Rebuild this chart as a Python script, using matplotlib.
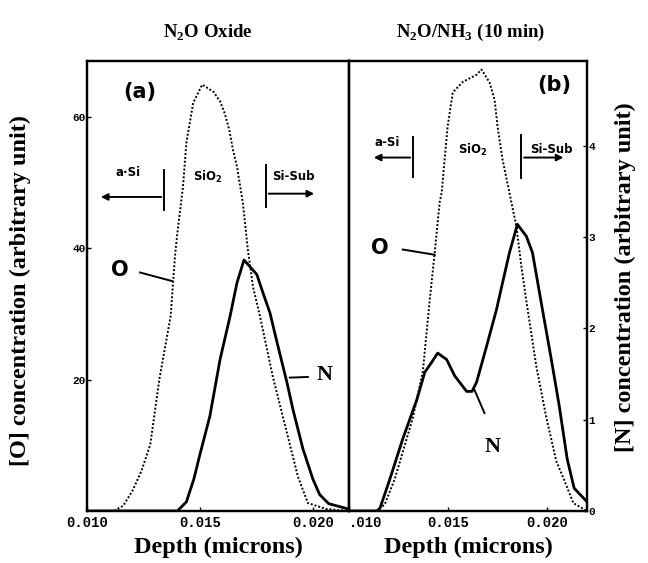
import matplotlib
matplotlib.use("Agg")
import matplotlib.pyplot as plt

# panel (a) N2O oxide
depth_o_a = [0.0100, 0.0112, 0.0116, 0.0120, 0.0124, 0.0128, 0.0132, 0.0137, 0.0139, 0.0140,
             0.01425, 0.0144, 0.0147, 0.0151, 0.0156, 0.0159, 0.0161, 0.0163, 0.01646, 0.01664,
             0.0169, 0.01712, 0.01735, 0.01766, 0.01823, 0.01885, 0.01934, 0.01978, 0.0206, 0.0216]
o_a = [0, 0, 0.8, 3.0, 6.0, 10.1, 20.0, 29.6, 39.0, 42.3,
       49.4, 56.1, 62.1, 64.9, 63.8, 62.3, 60.5, 58.0, 55.0, 52.4,
       46.9, 39.8, 34.1, 29.6, 20.4, 11.9, 5.2, 1.2, 0.3, 0]

depth_n_a = [0.0100, 0.0140, 0.0144, 0.01473, 0.0150, 0.01544, 0.01589, 0.01633, 0.01664,
             0.01695, 0.0172, 0.01752, 0.01779, 0.0181, 0.01841, 0.01885, 0.01912, 0.01956, 0.0200,
             0.0203, 0.0207, 0.0216]
n_a = [0, 0, 0.1, 0.35, 0.62, 1.04, 1.66, 2.13, 2.50,
       2.75, 2.68, 2.59, 2.39, 2.17, 1.85, 1.41, 1.11, 0.68, 0.35,
       0.18, 0.08, 0.02]

# panel (b) N2O/NH3 10 min
depth_o_b = [0.0100, 0.0114, 0.0118, 0.01231, 0.01322, 0.01372, 0.01407, 0.01432, 0.01457, 0.01467,
             0.01497, 0.01523, 0.01573, 0.01643, 0.01668, 0.01709, 0.01734, 0.01749, 0.01774, 0.01809,
             0.01844, 0.01869, 0.01894, 0.01945, 0.01995, 0.02045, 0.02085, 0.02131, 0.0220]
o_b = [0, 0, 1.0, 4.9, 14.2, 21.2, 32.1, 39.3, 47.0, 48.4,
       58.5, 63.7, 65.3, 66.4, 67.2, 65.2, 62.6, 58.5, 53.5, 48.4,
       43.3, 37.2, 32.0, 21.9, 14.2, 7.6, 4.7, 1.2, 0]

depth_n_b = [0.0100, 0.0114, 0.01156, 0.01206, 0.01271, 0.01342, 0.01382, 0.01417, 0.01447, 0.01492,
             0.01533, 0.01593, 0.0162, 0.01643, 0.01693, 0.01744, 0.01774, 0.01809, 0.01849, 0.01894,
             0.01925, 0.01975, 0.0202, 0.0206, 0.0210, 0.02135, 0.0220]
n_b = [0, 0, 0.03, 0.35, 0.79, 1.22, 1.52, 1.63, 1.73, 1.66,
       1.48, 1.31, 1.31, 1.41, 1.80, 2.21, 2.50, 2.83, 3.14, 3.01,
       2.83, 2.21, 1.66, 1.15, 0.57, 0.25, 0.10]

x_ticks = [0.010, 0.015, 0.020]
o_ticks = [20, 40, 60]
n_ticks = [0, 1, 2, 3, 4]

serif = "Liberation Serif"
mono = "Liberation Mono"
dotted = (0, (1, 1))

fig = plt.figure(figsize=(6.48, 5.63), dpi=100)
ax_a = fig.add_axes([0.1343, 0.0924, 0.4043, 0.7993])
ax_b = fig.add_axes([0.5386, 0.0924, 0.3673, 0.7993])
axn_a = ax_a.twinx()
axn_b = ax_b.twinx()

ax_a.plot(depth_o_a, o_a, color="black", lw=1.4, ls=dotted)
axn_a.plot(depth_n_a, n_a, color="black", lw=2.0)
ax_b.plot(depth_o_b, o_b, color="black", lw=1.4, ls=dotted)
axn_b.plot(depth_n_b, n_b, color="black", lw=2.0)

ax_a.set_xlim(0.010, 0.0216)
ax_b.set_xlim(0.010, 0.0220)
for ax in (ax_a, ax_b):
    ax.set_ylim(0, 68.5)
for ax in (axn_a, axn_b):
    ax.set_ylim(0, 4.93)

for ax in (ax_a, ax_b, axn_a, axn_b):
    for s in ax.spines.values():
        s.set_linewidth(1.6)
    ax.tick_params(direction="in", length=3, width=1)

ax_a.set_xticks(x_ticks)
ax_a.set_xticklabels(["0.010", "0.015", "0.020"], fontfamily=mono, fontweight="bold", fontsize=10)
ax_b.set_xticks(x_ticks)
ax_b.set_xticklabels([".010", "0.015", "0.020"], fontfamily=mono, fontweight="bold", fontsize=10)
ax_b.get_xticklabels()[0].set_ha("left")
ax_a.set_yticks(o_ticks)
ax_a.set_yticklabels([str(t) for t in o_ticks], fontfamily=mono, fontweight="bold", fontsize=8)
ax_a.tick_params(axis="y", pad=1)
axn_a.set_yticks([])
ax_b.set_yticks([])
axn_b.set_yticks(n_ticks)
axn_b.set_yticklabels([str(t) for t in n_ticks], fontfamily=mono, fontweight="bold", fontsize=8)
axn_b.tick_params(axis="y", pad=1)

lab = dict(fontfamily=serif, fontweight="bold", fontsize=17.5)
ax_a.set_xlabel("Depth (microns)", labelpad=5, **lab)
ax_b.set_xlabel("Depth (microns)", labelpad=5, **lab)
ax_a.set_ylabel("[O] concentration (arbitrary unit)", labelpad=30, y=0.49, **lab)
axn_b.set_ylabel("[N] concentration (arbitrary unit)", labelpad=14, y=0.52, **lab)
ttl = dict(fontfamily=serif, fontweight="bold", fontsize=13.5)
ax_a.set_title(r"N$_\mathregular{2}$O Oxide", pad=17, x=0.46, **ttl)
ax_b.set_title(r"N$_\mathregular{2}$O/NH$_\mathregular{3}$ (10 min)", pad=17, x=0.51, **ttl)

small = dict(fontfamily="DejaVu Sans", fontweight="bold", fontsize=8.5, ha="center", va="center")
big = dict(fontfamily="DejaVu Sans", fontweight="bold", fontsize=15, ha="center", va="center")
arrow = dict(arrowstyle="-|>", color="black", lw=1.4, mutation_scale=10)
sio2 = r"SiO$_\mathregular{2}$"

# panel (a) annotations
ax_a.text(0.01235, 63.8, "(a)", **big)
ax_a.text(0.01181, 51.5, "a·Si", **small)
ax_a.plot([0.01341, 0.01341], [45.8, 51.9], color="black", lw=1.4)
ax_a.annotate("", xy=(0.01049, 47.8), xytext=(0.01341, 47.8), arrowprops=arrow)
ax_a.text(0.01535, 50.9, sio2, **small)
ax_a.plot([0.01792, 0.01792], [46.3, 52.7], color="black", lw=1.4)
ax_a.annotate("", xy=(0.02018, 48.3), xytext=(0.01792, 48.3), arrowprops=arrow)
ax_a.text(0.01912, 50.9, "Si-Sub", **small)
ax_a.text(0.01146, 36.7, "O", **big)
ax_a.plot([0.01235, 0.01376], [36.3, 35.0], color="black", lw=1.4)
ax_a.text(0.02053, 20.7, "N", fontfamily=serif, fontweight="bold", fontsize=16, ha="center", va="center")
ax_a.plot([0.01898, 0.01978], [20.3, 20.4], color="black", lw=1.4)

# panel (b) annotations
ax_b.text(0.02035, 64.9, "(b)", **big)
ax_b.text(0.01191, 56.1, "a-Si", **small)
ax_b.plot([0.01322, 0.01322], [50.9, 57.0], color="black", lw=1.4)
ax_b.annotate("", xy=(0.01111, 53.8), xytext=(0.01322, 53.8), arrowprops=arrow)
ax_b.text(0.01623, 55.0, sio2, **small)
ax_b.plot([0.01869, 0.01869], [50.7, 57.3], color="black", lw=1.4)
ax_b.annotate("", xy=(0.02095, 53.8), xytext=(0.01869, 53.8), arrowprops=arrow)
ax_b.text(0.0202, 55.0, "Si-Sub", **small)
ax_b.text(0.01156, 40.1, "O", **big)
ax_b.plot([0.01271, 0.01432], [39.8, 39.0], color="black", lw=1.4)
ax_b.text(0.01724, 9.7, "N", fontfamily=serif, fontweight="bold", fontsize=16, ha="center", va="center")
ax_b.plot([0.01683, 0.01633], [14.9, 18.4], color="black", lw=1.4)

fig.savefig("out.png", dpi=100)
